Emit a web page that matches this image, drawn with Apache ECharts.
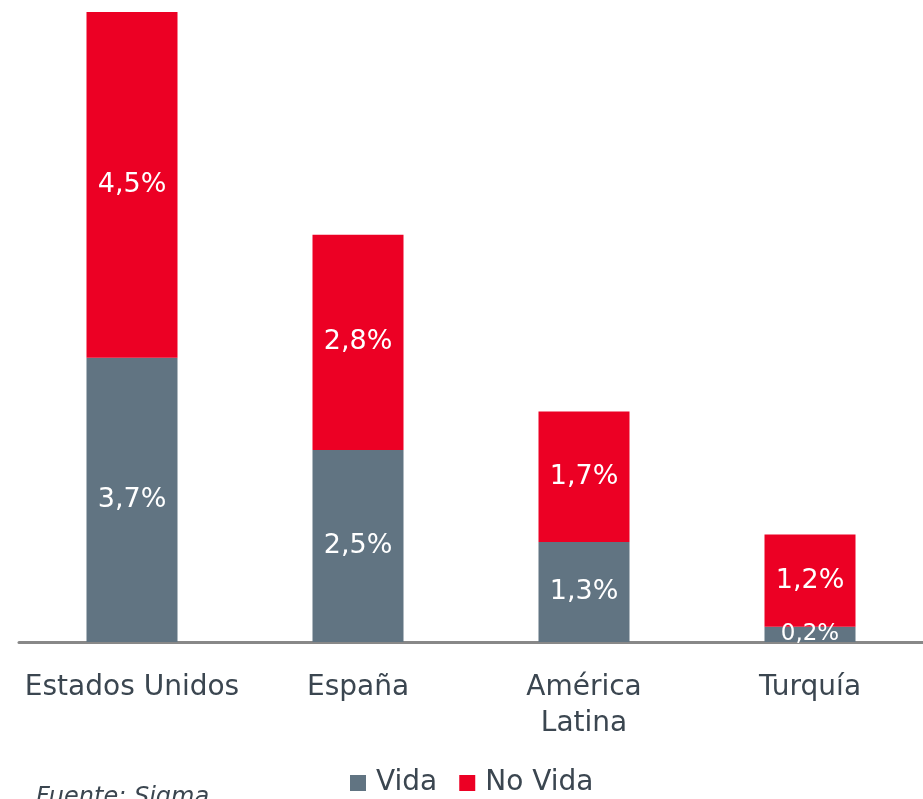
<!DOCTYPE html>
<html>
<head>
<meta charset="utf-8">
<script src="https://cdn.jsdelivr.net/npm/echarts@6/dist/echarts.min.js"></script>
<style>
  html, body { margin: 0; padding: 0; background: #fff; }
  #chart { width: 923px; height: 799px; }
</style>
</head>
<body>
<div id="chart"></div>
<script>
const categories = ["Estados Unidos", "España", "América\nLatina", "Turquía"];
const vida = [3.7, 2.5, 1.3, 0.2];
const noVida = [4.5, 2.8, 1.7, 1.2];

const fmt = (p) => p.value.toFixed(1).replace(".", ",") + "%";

const chart = echarts.init(document.getElementById("chart"));

const option = {
  animation: false,
  grid: { left: 19, right: 0, top: 12, bottom: 157 },
  legend: {
    data: ["Vida", "No Vida"],
    left: 350,
    top: 769,
    padding: 0,
    icon: "rect",
    itemWidth: 16,
    itemHeight: 16,
    itemGap: 22,
    textStyle: {
      fontFamily: "DejaVu Sans",
      fontSize: 28,
      color: "#3b4650",
      padding: [0, 0, 0, 5]
    }
  },
  xAxis: {
    type: "category",
    data: categories,
    axisTick: { show: false },
    axisLine: { lineStyle: { color: "#888888", width: 3 } },
    axisLabel: {
      interval: 0,
      margin: 28,
      fontFamily: "DejaVu Sans",
      fontSize: 28,
      lineHeight: 36,
      color: "#3b4650"
    }
  },
  yAxis: {
    type: "value",
    min: 0,
    max: 8.2,
    show: false
  },
  series: [
    {
      name: "Vida",
      type: "bar",
      stack: "total",
      barWidth: 91,
      data: vida.map((v) => (v < 0.5 ? { value: v, label: { fontSize: 23 } } : v)),
      itemStyle: { color: "#617482" },
      label: {
        show: true,
        position: "inside",
        formatter: fmt,
        fontFamily: "DejaVu Sans",
        fontSize: 27,
        color: "#ffffff"
      }
    },
    {
      name: "No Vida",
      type: "bar",
      stack: "total",
      barWidth: 91,
      data: noVida,
      itemStyle: { color: "#EC0024" },
      label: {
        show: true,
        position: "inside",
        formatter: fmt,
        fontFamily: "DejaVu Sans",
        fontSize: 27,
        color: "#ffffff"
      }
    }
  ],
  graphic: [
    {
      type: "text",
      left: 36,
      top: 786,
      style: {
        text: "Fuente: Sigma",
        fontFamily: "DejaVu Sans",
        fontStyle: "italic",
        fontSize: 24,
        fill: "#3b4650"
      }
    }
  ]
};

chart.setOption(option);
</script>
</body>
</html>
